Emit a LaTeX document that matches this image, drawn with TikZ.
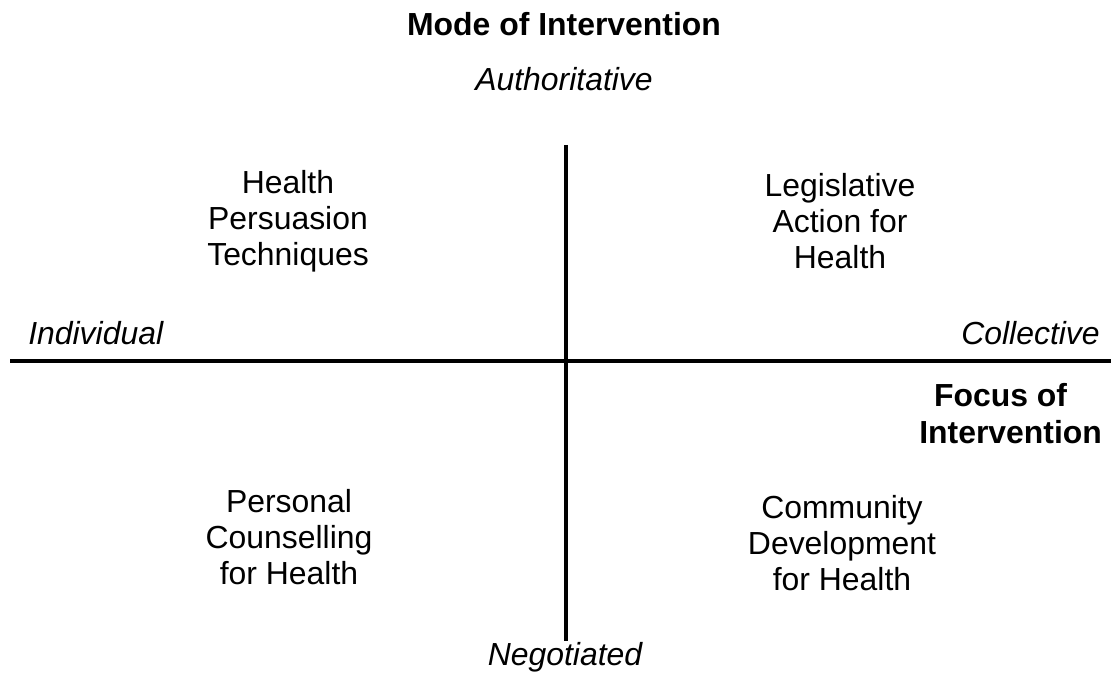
\documentclass[tikz,border=0pt]{standalone}
\usepackage{fontspec}
\setmainfont{Liberation Sans}
\usepackage{tikz}

\tikzset{
  lbl/.style={inner sep=0pt, align=center, font=\fontsize{22.7}{25.6}\selectfont},
  axislbl/.style={lbl, font=\fontsize{22.7}{25.6}\selectfont\itshape},
  headlbl/.style={lbl, font=\fontsize{22.7}{25.6}\selectfont\bfseries},
  focuslbl/.style={headlbl, align=left, font=\fontsize{22.7}{26.3}\selectfont\bfseries},
  axis/.style={line width=2.2pt}
}

\begin{document}
\begin{tikzpicture}[x=0.025cm,y=-0.025cm]
	\useasboundingbox (0,0) rectangle (1111,674);

	% axes
	\coordinate (top) at (566,145);
	\coordinate (bot) at (566,641);
	\coordinate (lft) at (10,361);
	\coordinate (rgt) at (1111,361);
	\draw[axis] (top) -- (bot);
	\draw[axis] (lft) -- (rgt);

	% titles and axis ends
	\node[headlbl] (mode) at (564,24) {Mode of Intervention};
	\node[axislbl] (auth) at (564,79) {Authoritative};
	\node[axislbl] (nego) at (565,657) {Negotiated};
	\node[axislbl, anchor=west] (indiv) at (28,333) {Individual};
	\node[axislbl, anchor=east] (coll) at (1100,333) {Collective};
	\node[focuslbl, anchor=west] (focus) at (919,414) {\hspace*{10.5pt}Focus of\\Intervention};

	% quadrants
	\node[lbl] (persuade) at (288,221) {Health\\Persuasion\\Techniques};
	\node[lbl] (legis) at (840,221) {Legislative\\Action for\\Health};
	\node[lbl] (counsel) at (289,537) {Personal\\Counselling\\for Health};
	\node[lbl] (commdev) at (842,543) {Community\\Development\\for Health};
\end{tikzpicture}
\end{document}
